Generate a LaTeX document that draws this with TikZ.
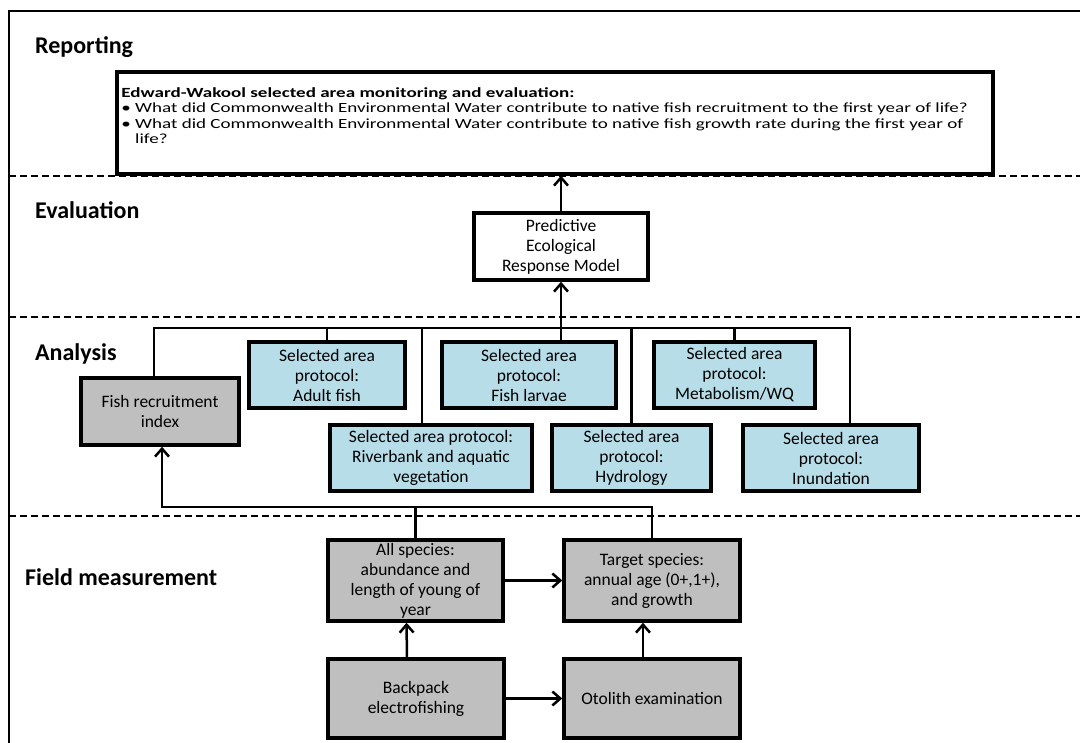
\documentclass[tikz,border=0pt]{standalone}
\usepackage{fontspec}
\setmainfont{Carlito}
\newfontfamily\widefont{Carlito}[FakeStretch=1.36]
\usetikzlibrary{arrows.meta,positioning}
\definecolor{boxblue}{RGB}{183,221,232}
\definecolor{boxgray}{RGB}{191,191,191}

\begin{document}
\begin{tikzpicture}[x=1pt,y=-1pt,
    box/.style={draw,line width=3.5pt,align=center,inner sep=2pt,font=\fontsize{17.5}{20}\selectfont},
    bluebox/.style={box,fill=boxblue},
    graybox/.style={box,fill=boxgray},
    whitebox/.style={box,fill=white},
    conn/.style={line width=2.5pt},
    arr/.style={conn,-{Straight Barb[length=8pt,width=14pt]}},
    sepline/.style={line width=1.2pt,dash pattern=on 7pt off 4pt},
    seclabel/.style={anchor=west,inner sep=0pt,font=\fontsize{24}{28}\selectfont\bfseries}]
  \useasboundingbox (0,0) rectangle (1080,743);
  % frame and level separators
  \draw[line width=1.5pt] (1080,11) -- (9,11) -- (9,743);
  \draw[sepline] (9,176) -- (1080,176);
  \draw[sepline] (9,317) -- (1080,317);
  \draw[sepline] (9,516) -- (1080,516);
  \node[seclabel] (lrep) at (35,47) {Reporting};
  \node[seclabel] (leval) at (35,210) {Evaluation};
  \node[seclabel] (lanal) at (35,354) {Analysis};
  \node[seclabel] (lfield) at (25,577) {Field measurement};

  % reporting
  \node[whitebox,minimum width=876pt,minimum height=102pt] (rep) at (555,123) {};
  \node[anchor=north west,align=left,inner sep=0pt,font=\widefont\fontsize{14}{15.5}\selectfont] (reptext)
    at ([shift={(6,17)}]rep.north west)
    {\textbf{Edward-Wakool selected area monitoring and evaluation:}\\
     \textbullet\ What did Commonwealth Environmental Water contribute to native fish recruitment to the first year of life?\\
     \textbullet\ What did Commonwealth Environmental Water contribute to native fish growth rate during the first year of\\
     \hphantom{\textbullet\ }life?};

  % evaluation
  \node[whitebox,minimum width=174pt,minimum height=67pt] (perm) at (561,246.5)
    {Predictive\\Ecological\\Response Model};

  % analysis
  \node[graybox,minimum width=158pt,minimum height=67pt] (fri) at (160,411.5) {Fish recruitment\\index};
  \node[bluebox,minimum width=156pt,minimum height=66pt] (adult) at (327,375) {Selected area\\protocol:\\Adult fish};
  \node[bluebox,minimum width=174pt,minimum height=66pt] (larvae) at (529,375) {Selected area\\protocol:\\Fish larvae};
  \node[bluebox,minimum width=161pt,minimum height=66pt] (metab) at (734.5,375) {Selected area\\protocol:\\Metabolism/WQ};
  \node[bluebox,minimum width=202pt,minimum height=66pt] (river) at (431,458) {Selected area protocol:\\Riverbank and aquatic\\vegetation};
  \node[bluebox,minimum width=159pt,minimum height=66pt] (hydro) at (631.5,458) {Selected area\\protocol:\\Hydrology};
  \node[bluebox,minimum width=176pt,minimum height=66pt] (inund) at (831,458) {Selected area\\protocol:\\Inundation};

  % field measurement
  \node[graybox,minimum width=175pt,minimum height=81pt] (allsp) at (415.5,580.5)
    {All species:\\abundance and\\length of young of\\year};
  \node[graybox,minimum width=176pt,minimum height=81pt] (target) at (652,580.5)
    {Target species:\\annual age (0+,1+),\\and growth};
  \node[graybox,minimum width=176pt,minimum height=79pt] (backpack) at (416,698.5) {Backpack\\electrofishing};
  \node[graybox,minimum width=176pt,minimum height=79pt] (otolith) at (652,698.5) {Otolith examination};

  % connectors
  \coordinate (busR) at (850,328);
  \draw[conn] ([xshift=-6pt]fri.north) |- (busR) -- (busR |- inund.north);
  \draw[conn] (adult.north) -- (adult.north |- busR);
  \draw[conn] ([xshift=-9pt]river.north) -- ([xshift=-9pt]river.north |- busR);
  \draw[conn] (hydro.north) -- (hydro.north |- busR);
  \draw[conn] (metab.north) -- (metab.north |- busR);
  \draw[arr] (larvae.north -| perm.south) -- (perm.south);
  \draw[arr] (perm.north) -- (rep.south -| perm.north);

  \coordinate (fbus) at (0,507);
  \draw[arr] (target.north) -- (target.north |- fbus) -- ([xshift=2pt]fri.south |- fbus) -- ([xshift=2pt]fri.south);
  \draw[conn] (allsp.north) -- (allsp.north |- fbus);
  \draw[arr] (allsp) -- (target);
  \draw[arr] (backpack) -- (otolith);
  \draw[arr] ([xshift=-9pt]backpack.north) -- ([xshift=-9pt]allsp.south);
  \draw[arr] ([xshift=-9pt]otolith.north) -- ([xshift=-9pt]target.south);
\end{tikzpicture}
\end{document}
